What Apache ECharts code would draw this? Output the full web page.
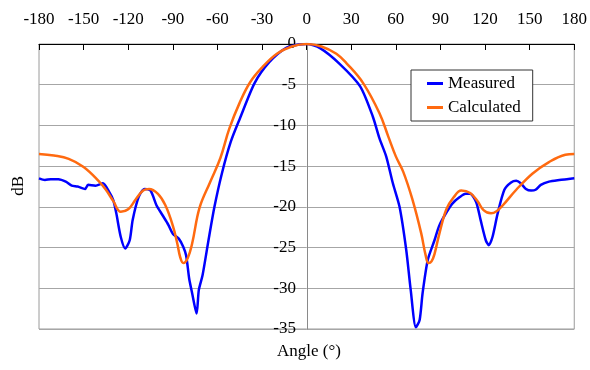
<!DOCTYPE html>
<html>
<head>
<meta charset="utf-8">
<script src="https://cdn.jsdelivr.net/npm/echarts@6/dist/echarts.min.js"></script>
<style>html,body{margin:0;padding:0;background:#fff}#c{width:590px;height:370px}</style>
</head>
<body>
<div id="c"></div>
<script>
var xTicks = [-180, -150, -120, -90, -60, -30, 0, 30, 60, 90, 120, 150, 180];
var yTicks = [0, -5, -10, -15, -20, -25, -30, -35];

var measuredAngles = [-180,-176,-172,-167,-162,-158,-154,-149,-147,-142,-137,-133,-130,-128,-125,-122,-119,-117,-113,-109,-105,-101,-97,-93,-90,-86,-83,-81,-79,-77,-74,-72.5,-70,-66,-62,-57,-51,-45,-35,-25,-14,-5,0,9,22,36,44.5,49,53.5,58,62.5,67,70,73.5,76,78,81.5,86,89,93,98,103,107,110,114,117,120.5,122.5,125,128.5,133,137.5,141,144,147.5,151,154,157.5,163,170,175,180];
var measuredValues = [-16.5,-16.7,-16.6,-16.6,-16.9,-17.4,-17.5,-17.8,-17.3,-17.4,-17.1,-18.1,-19.2,-20.8,-23.7,-25.1,-24.1,-21.6,-18.8,-17.8,-18.0,-19.8,-21.0,-22.2,-23.3,-23.9,-24.9,-26.0,-28.8,-30.6,-33.1,-30.2,-28.4,-24.1,-20.0,-15.9,-12.0,-9.2,-4.8,-2.2,-0.5,-0.05,0,-0.5,-2.4,-5.2,-8.9,-11.6,-13.8,-17.1,-20.0,-25.3,-30.2,-34.8,-33.9,-30.6,-26.5,-24.1,-22.4,-21.0,-19.6,-18.8,-18.4,-18.4,-19.4,-21.6,-24.1,-24.7,-23.7,-20.8,-17.9,-17.0,-16.8,-17.1,-17.8,-18.0,-17.9,-17.3,-16.9,-16.7,-16.6,-16.5];

var calculatedAngles = [-180,-170,-160,-150,-140,-135,-130,-125,-120,-115,-110,-106,-100,-95,-90,-87,-85,-83,-80,-77,-72,-65,-58,-52,-45,-38,-30,-20,-10,0,10,20,27,38,49,55,60,65,71,77,80,82,84,86,89,94,99,104,110,115,119,124,128,132,141,152,163,174,180];
var calculatedValues = [-13.5,-13.7,-14.1,-15.1,-16.8,-17.9,-19.3,-20.6,-20.3,-19.1,-18.0,-17.8,-18.4,-19.8,-22.3,-24.5,-26.2,-26.9,-26.3,-24.5,-20.1,-17.0,-14.0,-10.4,-7.2,-4.7,-2.9,-1.2,-0.3,0,-0.3,-1.2,-2.4,-4.8,-8.5,-11.4,-13.8,-15.7,-19.0,-23.2,-25.9,-26.9,-26.7,-25.8,-23.5,-20.3,-18.8,-18.0,-18.3,-19.3,-20.4,-20.8,-20.5,-19.8,-17.9,-15.9,-14.5,-13.6,-13.5];

function pairs(xs, ys) { return xs.map(function (x, i) { return [x, ys[i]]; }); }

var FONT = '"Liberation Serif", "Times New Roman", serif';
var chart = echarts.init(document.getElementById('c'), null, {renderer: 'canvas'});
chart.setOption({
  animation: false,
  backgroundColor: '#fff',
  grid: {left: 39, right: 15, top: 44, bottom: 41, show: true, borderColor: '#9a9a9a', borderWidth: 1, containLabel: false},
  xAxis: {
    type: 'value', position: 'top', min: xTicks[0], max: xTicks[xTicks.length - 1], interval: 30,
    axisLine: {show: true, onZero: false, lineStyle: {color: '#000', width: 1}},
    axisTick: {show: true, inside: true, length: 6, lineStyle: {color: '#000'}},
    axisLabel: {fontFamily: FONT, fontSize: 17, color: '#000', margin: 16},
    splitLine: {show: false}
  },
  yAxis: {
    type: 'value', position: 'left', offset: -268, min: yTicks[yTicks.length - 1], max: yTicks[0], interval: 5,
    axisLine: {show: true, onZero: false, lineStyle: {color: '#8a8a8a', width: 1}},
    axisTick: {show: false},
    axisLabel: {fontFamily: FONT, fontSize: 17, color: '#000', margin: 11},
    splitLine: {show: true, lineStyle: {color: '#a6a6a6', width: 1}}
  },
  legend: {
    orient: 'vertical', left: 411, top: 70,
    padding: [5, 12, 5, 16],
    backgroundColor: '#fff', borderColor: '#333', borderWidth: 1,
    itemWidth: 16, itemHeight: 3, itemGap: 7, icon: 'rect',
    textStyle: {fontFamily: FONT, fontSize: 17, color: '#000'},
    data: ['Measured', 'Calculated']
  },
  graphic: [
    {type: 'text', left: 10, top: 176, rotation: Math.PI / 2,
     style: {text: 'dB', font: '17px ' + FONT, fill: '#000'}},
    {type: 'text', left: 277, top: 343,
     style: {text: 'Angle (°)', font: '17px ' + FONT, fill: '#000'}}
  ],
  series: [
    {name: 'Measured', type: 'line', data: pairs(measuredAngles, measuredValues), showSymbol: false, symbol: 'none', smooth: 0.25,
     lineStyle: {color: '#0000ff', width: 2.5}, itemStyle: {color: '#0000ff'}},
    {name: 'Calculated', type: 'line', data: pairs(calculatedAngles, calculatedValues), showSymbol: false, symbol: 'none', smooth: 0.4,
     lineStyle: {color: '#ff6a10', width: 2.5}, itemStyle: {color: '#ff6a10'}}
  ]
});
</script>
</body>
</html>
